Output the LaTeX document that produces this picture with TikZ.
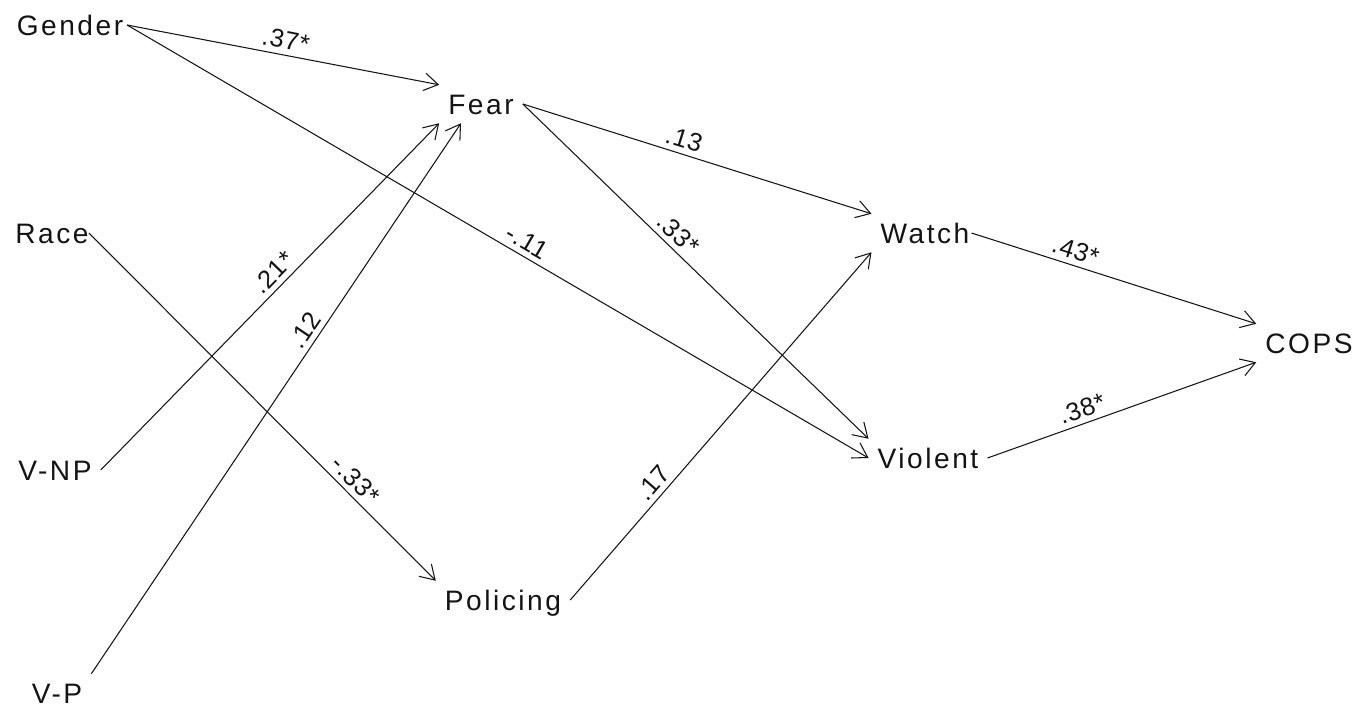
\documentclass[tikz,border=0pt]{standalone}
\usepackage{fontspec}
\setmainfont{Liberation Sans}
\newfontfamily\varfont[LetterSpace=9]{Liberation Sans}
\newfontfamily\coeffont[LetterSpace=3]{Liberation Sans}
\usetikzlibrary{arrows.meta, positioning}
\definecolor{myink}{RGB}{20,20,20}
\tikzset{
  var/.style={rectangle, inner sep=5pt, text height=11.5pt, text depth=0pt,
    font=\varfont\fontsize{16}{19}\selectfont, text=myink},
  link/.style={-{Straight Barb[length=8pt,width=10pt]}, line width=0.6pt, color=myink},
  coef/.style={sloped, above, inner sep=3pt,
    font=\coeffont\fontsize{14.5}{17}\selectfont, text=myink}
}

\begin{document}
\begin{tikzpicture}[on grid]
  \useasboundingbox (0,0) rectangle (27.22,-14.22);
  % exogenous variables
  \node[var] (gender) at (1.40,-0.50) {Gender};
  \node[var, below=4.16cm of gender, xshift=-0.36cm] (race) {Race};
  \node[var, below=4.74cm of race, xshift=0.06cm] (vnp) {V-NP};
  \node[var, below=4.46cm of vnp, xshift=0.04cm] (vp) {V-P};
  % mediators and outcome
  \node[var, right=8.22cm of gender, yshift=-1.58cm] (fear) {Fear};
  \node[var, below=9.92cm of fear, xshift=0.44cm] (policing) {Policing};
  \node[var, right=17.46cm of race] (watch) {Watch};
  \node[var, below=4.50cm of watch, xshift=0.06cm] (violent) {Violent};
  \node[var, right=7.68cm of watch, yshift=-2.20cm] (cops) {COPS};

  \draw[link] ([xshift=-3pt]gender.east) -- node[coef, pos=0.50] {.37*} (fear.north west);
  \draw[link] ([xshift=-3pt]gender.east) -- node[coef, pos=0.53] {-.11} (violent.west);
  \draw[link] ([xshift=-5pt]race.east) -- node[coef, pos=0.74] {-.33*} (policing.north west);
  \draw[link] (vnp.east) -- node[coef, pos=0.54] {.21*} (fear.south west);
  \draw[link] (vp.north east) -- node[coef, pos=0.61] {.12} ([xshift=-0.4cm]fear.south);
  \draw[link] (fear.east) -- node[coef, pos=0.45] {.13} (watch.north west);
  \draw[link] (fear.east) -- node[coef, pos=0.42] {.33*} (violent.north west);
  \draw[link] (policing.east) -- node[coef, pos=0.31] {.17} (watch.south west);
  \draw[link] ([xshift=-4pt]watch.east) -- node[coef, pos=0.35] {.43*} (cops.north west);
  \draw[link] (violent.east) -- node[coef, pos=0.37] {.38*} (cops.south west);
\end{tikzpicture}
\end{document}
